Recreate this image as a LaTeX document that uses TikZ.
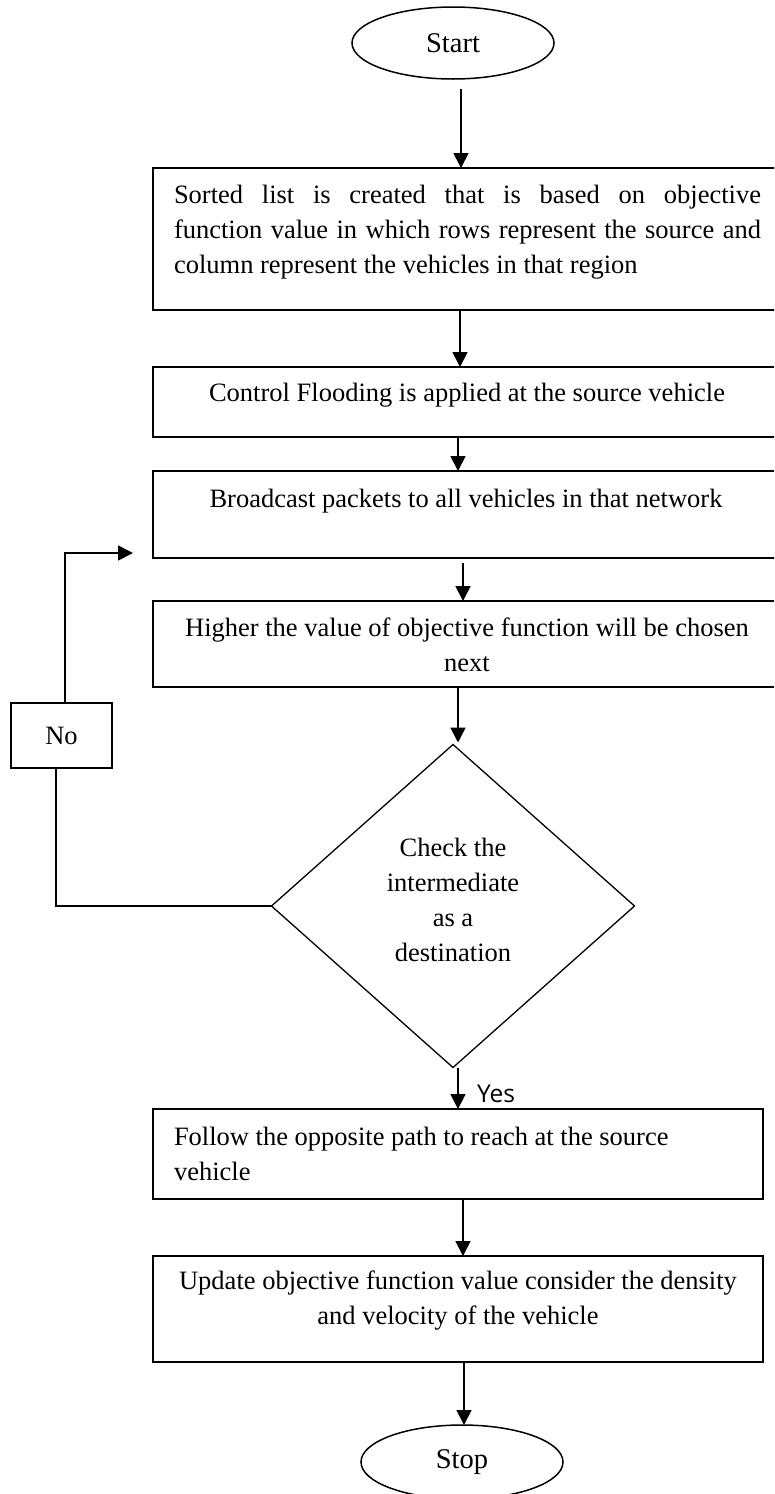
\documentclass[tikz,border=0pt]{standalone}
\usepackage{fontspec}
\setmainfont{Liberation Serif}
\newfontfamily\labelsans{Open Sans}
\usetikzlibrary{arrows.meta,shapes.geometric}

\begin{document}
\begin{tikzpicture}[x=1pt,y=-1pt,
  every node/.style={inner sep=0pt, outer sep=0pt},
  body/.style={font=\fontsize{26.5}{35}\selectfont},
  terminal/.style={ellipse, draw, line width=1.5pt, minimum width=202pt,
                   font=\fontsize{28.5}{34}\selectfont},
  procbox/.style={rectangle, draw, line width=1.5pt},
  decision/.style={diamond, draw, line width=1.3pt,
                   minimum width=363pt, minimum height=323pt},
  arr/.style={line width=1.8pt, -{Triangle[length=15pt,width=15pt]}},
  flow/.style={line width=1.5pt},
]
\useasboundingbox (0,0) rectangle (774,1494);
\clip (0,0) rectangle (774,1494);

% terminals
\node[terminal, minimum height=72pt] (start) at (453,43) {Start};
\node[terminal, minimum height=74pt] (stop) at (462,1462) {Stop};

% process boxes
\node[procbox, minimum width=628pt, minimum height=142pt] (b1) at (467,239) {};
\node[procbox, minimum width=628pt, minimum height=70pt]  (b2) at (467,402) {};
\node[procbox, minimum width=628pt, minimum height=87pt]  (b3) at (467,514.5) {};
\node[procbox, minimum width=628pt, minimum height=86pt]  (b4) at (467,644) {};
\node[procbox, minimum width=610pt, minimum height=90pt]  (b5) at (458,1154) {};
\node[procbox, minimum width=610pt, minimum height=106pt] (b6) at (458,1309) {};

% decision
\node[decision] (dec) at (453,906) {};
\node[body, align=center] (dectext) at (453,899.5)
  {Check the\\intermediate\\as a\\destination};

% the "No" branch label box
\node[procbox, minimum width=101pt, minimum height=65pt, body] (no) at (61.5,735.5) {No};

% box texts
\node[body, text width=587pt, align=justify] (t1) at (467.5,232)
  {Sorted list is created that is based on objective\linebreak
   function value in which rows represent the source and\linebreak
   column represent the vehicles in that region};
\node[body, anchor=base] (t2) at (467,401) {Control Flooding is applied at the source vehicle};
\node[body, anchor=base] (t3) at (466,507) {Broadcast packets to all vehicles in that network};
\node[body, align=center] (t4) at (467,644.5)
  {Higher the value of objective function will be chosen\\next};
\node[body, align=left, anchor=west] (t5) at (174,1154)
  {Follow the opposite path to reach at the source\\vehicle};
\node[body, align=center] (t6) at (458,1301)
  {Update objective function value consider the density\\and velocity of the vehicle};

% yes label
\node[anchor=base west, font=\labelsans\fontsize{24.5}{29}\selectfont] (yes) at (477,1102) {Yes};

% main flow
\draw[arr] ([xshift=8pt,yshift=-10pt]start.south) -- ([xshift=-6pt]b1.north);
\draw[arr] ([xshift=-7pt]b1.south) -- ([xshift=-7pt]b2.north);
\draw[arr] ([xshift=-9pt]b2.south) -- ([xshift=-9pt]b3.north);
\draw[arr] ([xshift=-4pt,yshift=-5pt]b3.south) -- ([xshift=-4pt]b4.north);
\draw[arr] ([xshift=-9pt]b4.south) -- ([xshift=5pt,yshift=2pt]dec.north);
\draw[arr] ([xshift=5pt]dec.south) -- (b5.north);
\draw[arr] ([xshift=5pt]b5.south) -- ([xshift=5pt]b6.north);
\draw[arr] ([xshift=6pt]b6.south) -- ([xshift=2pt]stop.north);

% loop back on "No"
\coordinate (fb) at (133,553);
\draw[flow] (dec.west) -| ([xshift=-5.5pt]no.south);
\draw[arr] ([xshift=3.5pt]no.north) |- (fb);
\end{tikzpicture}
\end{document}
